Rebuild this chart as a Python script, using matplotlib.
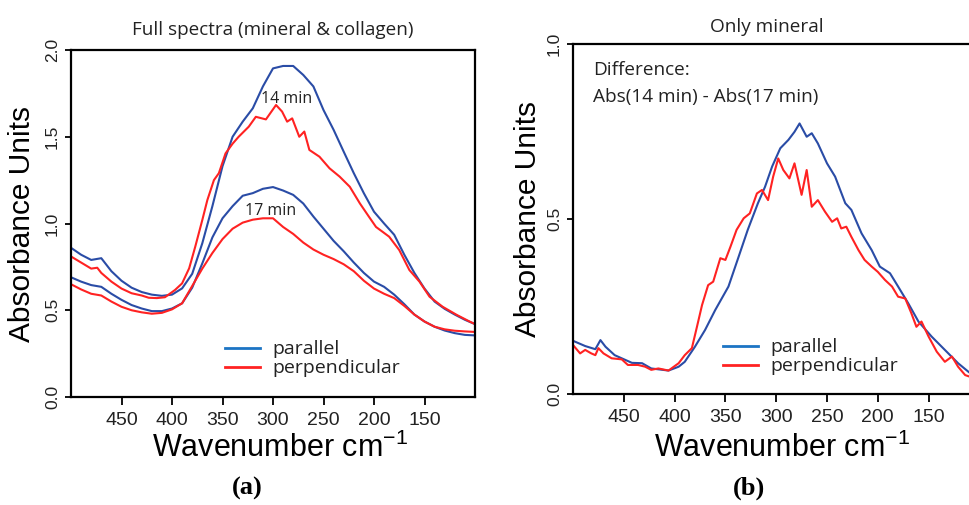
import numpy as np
import matplotlib
matplotlib.use('Agg')
import matplotlib.pyplot as plt
from matplotlib.lines import Line2D

# ---- data ----
# panel (a): full spectra, 10 cm-1 grid
wn_a = [500, 490, 480, 470, 460, 450, 440, 430, 420, 410, 400, 390, 380, 370, 360,
        350, 340, 330, 320, 310, 300, 290, 280, 270, 260, 250, 240, 230, 220, 210,
        200, 190, 180, 170, 160, 150, 140, 130, 120, 110, 100]
par_14 = [0.86, 0.82, 0.79, 0.80, 0.725, 0.67, 0.63, 0.605, 0.59, 0.583, 0.59, 0.626,
          0.71, 0.886, 1.10, 1.33, 1.50, 1.587, 1.664, 1.79, 1.894, 1.908, 1.908, 1.856,
          1.79, 1.654, 1.54, 1.414, 1.29, 1.174, 1.068, 1.00, 0.935, 0.82, 0.715, 0.625,
          0.55, 0.508, 0.475, 0.445, 0.42]
par_17 = [0.69, 0.665, 0.645, 0.635, 0.595, 0.56, 0.53, 0.51, 0.495, 0.495, 0.51, 0.54,
          0.63, 0.77, 0.92, 1.03, 1.10, 1.16, 1.175, 1.20, 1.21, 1.19, 1.165, 1.115, 1.04,
          0.97, 0.90, 0.84, 0.775, 0.715, 0.665, 0.635, 0.59, 0.535, 0.475, 0.435, 0.405,
          0.383, 0.368, 0.358, 0.355]
perp_17 = [0.65, 0.62, 0.595, 0.585, 0.55, 0.52, 0.50, 0.488, 0.48, 0.485, 0.505, 0.54,
           0.64, 0.74, 0.83, 0.91, 0.97, 1.005, 1.022, 1.03, 1.03, 0.98, 0.94, 0.89, 0.85,
           0.82, 0.795, 0.765, 0.725, 0.67, 0.625, 0.595, 0.57, 0.525, 0.475, 0.435, 0.405,
           0.39, 0.382, 0.378, 0.375]
# noisier 14 min perpendicular trace, irregular points
wn_perp_14 = [500, 490, 480, 474, 470, 460, 450, 440, 430, 423, 415, 407, 397, 390, 383,
              377, 370, 365, 358.5, 353.6, 347, 340, 334, 324, 317, 307, 297, 291, 286,
              281, 274, 269, 264, 254, 244, 234, 224, 214, 205, 198, 191, 185, 175, 165,
              155, 145, 132, 118, 105, 98]
perp_14 = [0.81, 0.775, 0.74, 0.745, 0.715, 0.665, 0.625, 0.598, 0.585, 0.572, 0.57,
           0.575, 0.617, 0.655, 0.742, 0.866, 1.02, 1.135, 1.25, 1.29, 1.404, 1.46, 1.50,
           1.558, 1.615, 1.60, 1.683, 1.645, 1.587, 1.606, 1.50, 1.53, 1.424, 1.385,
           1.318, 1.27, 1.212, 1.116, 1.039, 0.98, 0.95, 0.924, 0.847, 0.732, 0.665,
           0.578, 0.52, 0.473, 0.434, 0.415]

# panel (b): difference spectra
wn_diff_par = [500, 488, 478, 473, 468, 459, 442, 432, 423, 406, 396, 390, 380, 370, 360,
               347, 337, 328, 318, 311, 304, 296, 288, 282, 277, 270, 265, 259, 250, 242,
               232, 226, 216, 206, 198, 188, 180, 170, 160, 147, 134, 121, 111, 105]
diff_par = [0.152, 0.137, 0.128, 0.154, 0.135, 0.111, 0.089, 0.088, 0.073, 0.067, 0.078,
            0.092, 0.135, 0.183, 0.24, 0.307, 0.392, 0.469, 0.545, 0.592, 0.65, 0.702,
            0.726, 0.749, 0.773, 0.735, 0.745, 0.716, 0.659, 0.621, 0.545, 0.526, 0.459,
            0.411, 0.364, 0.345, 0.307, 0.259, 0.207, 0.164, 0.126, 0.088, 0.064, 0.05]
wn_diff_perp = [500, 493, 488, 482, 478, 475, 470, 462, 452, 446, 436, 429, 423, 416, 406,
                396, 390, 383, 378, 373, 367, 362, 355, 350, 345, 339, 332, 326, 319, 314,
                308, 303, 298, 293, 287, 282, 275, 270, 265, 259, 252, 245, 240, 236, 231,
                226, 219, 213, 206, 200, 193, 186, 180, 173, 167, 162, 157, 150, 142, 134,
                127, 121, 114, 105]
diff_perp = [0.14, 0.116, 0.126, 0.116, 0.111, 0.131, 0.116, 0.102, 0.099, 0.083, 0.083,
             0.078, 0.069, 0.073, 0.067, 0.088, 0.111, 0.131, 0.192, 0.254, 0.311, 0.321,
             0.388, 0.383, 0.421, 0.469, 0.502, 0.516, 0.573, 0.583, 0.554, 0.621, 0.673,
             0.64, 0.616, 0.659, 0.569, 0.64, 0.535, 0.554, 0.521, 0.492, 0.502, 0.473,
             0.478, 0.449, 0.411, 0.383, 0.364, 0.349, 0.326, 0.307, 0.278, 0.273, 0.231,
             0.192, 0.207, 0.164, 0.121, 0.092, 0.107, 0.078, 0.054, 0.045]

x_ticks = [450, 400, 350, 300, 250, 200, 150]
legend_labels = ['parallel', 'perpendicular']

BLUE = '#2a4ca6'
RED = '#ff2222'
LEG_BLUE = '#1c74c4'
TXT = '#222222'
SANS = 'Liberation Sans'
MYR = 'Open Sans'

fig = plt.figure(figsize=(9.7, 5.05), dpi=100)
ax_a = fig.add_axes([71/970, 1-397/505, 404/970, 347/505])
ax_b = fig.add_axes([573/970, 1-394/505, 406.4/970, 350/505])


def style_axis(ax, yticks, ylim, ylab_x, leg_xy):
    ax.set_xlim(500, 100)
    ax.set_ylim(*ylim)
    ax.set_xticks(x_ticks)
    ax.set_yticks(yticks)
    ax.set_yticklabels(['%.1f' % t for t in yticks])
    for s in ax.spines.values():
        s.set_linewidth(1.6)
    ax.tick_params(axis='x', direction='out', length=6, width=1.3, pad=5,
                   labelsize=14, labelcolor=TXT)
    ax.tick_params(axis='y', direction='out', length=4, width=1.3, pad=4,
                   labelsize=12.5, labelcolor=TXT)
    for lab in ax.get_xticklabels() + ax.get_yticklabels():
        lab.set_family(SANS)
    for lab in ax.get_yticklabels():
        lab.set_rotation(90)
        lab.set_va('center')
    ax.text(ylab_x, 0.5, 'Absorbance Units', rotation=90,
            transform=ax.transAxes, ha='center', va='center', fontsize=21.5,
            family=SANS)
    legend_handles = [Line2D([], [], color=LEG_BLUE, lw=2),
                      Line2D([], [], color=RED, lw=2)]
    leg = ax.legend(legend_handles, legend_labels, frameon=False,
                    prop={'family': MYR, 'size': 14}, handlelength=1.8,
                    handletextpad=0.65, labelspacing=0.05, borderpad=0,
                    borderaxespad=0, loc='center left', bbox_to_anchor=leg_xy)
    for t in leg.get_texts():
        t.set_color(TXT)


# (a)
ax_a.plot(wn_a, par_14, color=BLUE, lw=1.5)
ax_a.plot(wn_perp_14, perp_14, color=RED, lw=1.5)
ax_a.plot(wn_a, par_17, color=BLUE, lw=1.5)
ax_a.plot(wn_a, perp_17, color=RED, lw=1.5)
style_axis(ax_a, [0.0, 0.5, 1.0, 1.5, 2.0], (0, 2.0), -0.121, (0.381, 0.11))
ax_a.text(287, 1.72, '14 min', ha='center', va='center', fontsize=11.5,
          family=MYR, color=TXT)
ax_a.text(302, 1.07, '17 min', ha='center', va='center', fontsize=11.5,
          family=MYR, color=TXT)
ax_a.set_title('Full spectra (mineral & collagen)', fontsize=13.6, family=MYR,
               pad=11, color=TXT)
ax_a.text(0.517, -0.173, 'Wavenumber cm$^{\\mathregular{-1}}$', transform=ax_a.transAxes,
          ha='center', va='baseline', fontsize=22, family=SANS)

# (b)
ax_b.plot(wn_diff_par, diff_par, color=BLUE, lw=1.5)
ax_b.plot(wn_diff_perp, diff_perp, color=RED, lw=1.5)
style_axis(ax_b, [0.0, 0.5, 1.0], (0, 1.0), -0.111, (0.369, 0.106))
ax_b.text(0.05, 0.925, 'Difference:', transform=ax_b.transAxes, fontsize=13.7,
          family=MYR, va='center', color=TXT)
ax_b.text(0.05, 0.85, 'Abs(14 min) - Abs(17 min)', transform=ax_b.transAxes,
          fontsize=13.7, family=MYR, va='center', color=TXT)
ax_b.text(0.476, 1.05, 'Only mineral', transform=ax_b.transAxes, ha='center',
          va='center', fontsize=13.7, family=MYR, color=TXT)
ax_b.text(0.514, -0.18, 'Wavenumber cm$^{\\mathregular{-1}}$', transform=ax_b.transAxes,
          ha='center', va='baseline', fontsize=22, family=SANS)

fig.text(247/970, 1-488/505, '(a)', ha='center', va='center', fontsize=19,
         family='Liberation Serif', weight='bold')
fig.text(749/970, 1-488/505, '(b)', ha='center', va='center', fontsize=19,
         family='Liberation Serif', weight='bold')

plt.savefig('out.png', dpi=100)
